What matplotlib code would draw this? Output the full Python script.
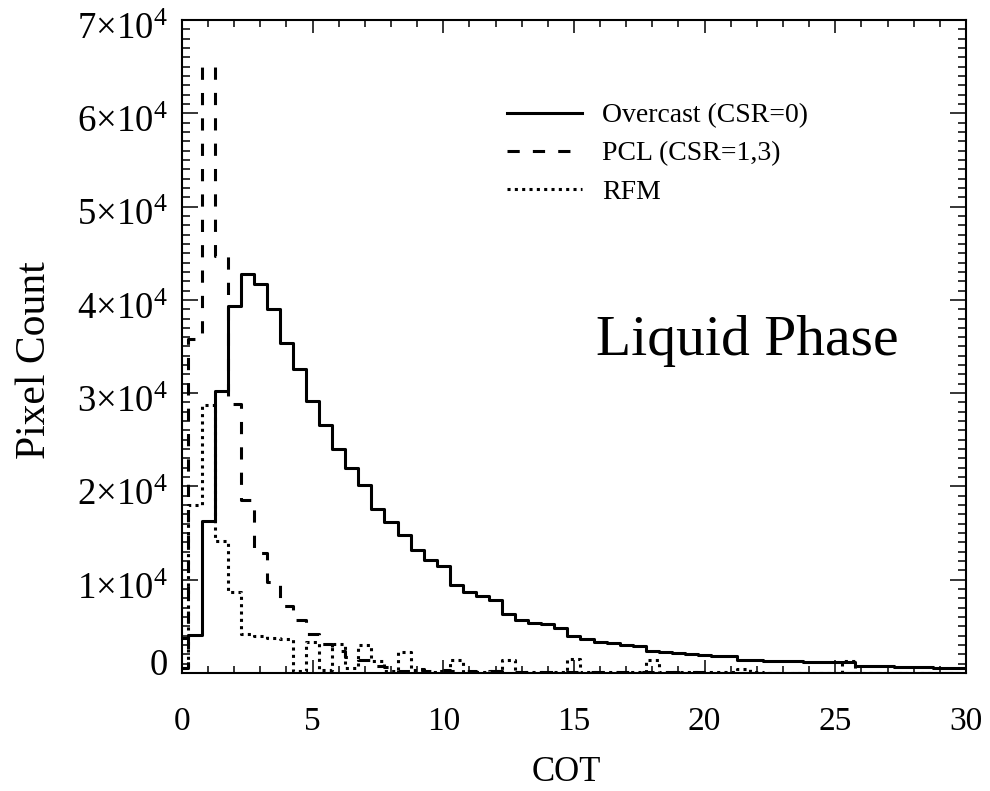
import numpy as np
import matplotlib
matplotlib.use('Agg')
import matplotlib.pyplot as plt
import matplotlib.transforms as mtransforms
from matplotlib.ticker import MultipleLocator

plt.rcParams['font.family'] = ['Liberation Serif', 'DejaVu Serif']
plt.rcParams['mathtext.fontset'] = 'custom'
plt.rcParams['mathtext.rm'] = 'Liberation Serif'
plt.rcParams['mathtext.it'] = 'Liberation Serif:italic'

# COT bin centres (0.5 wide bins)
cot = np.arange(0, 30.5, 0.5)

overcast = [3800, 4100, 16300, 30200, 39300, 42800, 41700, 39000, 35400, 32600,
            29200, 26600, 24000, 22000, 20100, 17600, 16200, 14800, 13200, 12100,
            11500, 9400, 8700, 8300, 7800, 6300, 5700, 5400, 5200, 4800,
            4000, 3600, 3350, 3200, 3050, 2900, 2350, 2200, 2100, 2000,
            1900, 1850, 1780, 1400, 1350, 1320, 1300, 1250, 1230, 1200,
            1180, 1150, 780, 740, 700, 660, 620, 590, 560, 530,
            500]

pcl = [500, 35800, 65000, 44700, 28800, 18500, 12900, 9800, 7150, 5650,
       4150, 3150, 2350, 1700, 1400, 750, 650, 250, 400, 250,
       300, 200, 250, 150, 200, 150, 150, 100, 120, 100,
       100, 90, 90, 80, 80, 80, 70, 70, 60, 60,
       60, 50, 50, 50, 50, 40, 40, 40, 40, 40,
       40, 40, 30, 30, 30, 30, 30, 30, 30, 30,
       30]

rfm = [500, 18000, 28700, 14100, 8700, 4200, 4000, 3800, 3600, 200,
       3300, 300, 3100, 500, 3000, 1300, 200, 2300, 300, 100,
       200, 1400, 150, 100, 200, 1400, 100, 100, 100, 150,
       1500, 100, 80, 80, 80, 100, 1400, 80, 60, 60,
       60, 60, 80, 400, 60, 50, 50, 50, 50, 50,
       50, 1300, 40, 40, 40, 40, 40, 40, 40, 40,
       40]

series_labels = ['Overcast (CSR=0)', 'PCL (CSR=1,3)', 'RFM']
ytick_vals = np.arange(0, 70001, 10000)
ytick_labels = ['0'] + ['%d×10$^4$' % k for k in range(1, 8)]

fig = plt.figure(figsize=(9.9, 7.91), dpi=100)
ax = fig.add_axes([0.1838, 0.1492, 0.7919, 0.8255])

lw = 2.2
ax.step(cot, overcast, where='mid', color='black', lw=lw, label=series_labels[0])
ax.step(cot, pcl, where='mid', color='black', lw=lw, linestyle=(0, (4, 4.3)),
        label=series_labels[1])
ax.step(cot, rfm, where='mid', color='black', lw=lw, linestyle=(0, (1, 1.4)),
        label=series_labels[2])

ax.set_xlim(0, 30)
ax.set_ylim(0, 70000)
ax.set_xticks(np.arange(0, 31, 5))
ax.xaxis.set_minor_locator(MultipleLocator(1))
ax.set_yticks(ytick_vals)
ax.set_yticklabels(ytick_labels)
ax.yaxis.set_minor_locator(MultipleLocator(1000))

ax.tick_params(axis='both', which='both', direction='in', top=True, right=True,
               width=1.1)
ax.tick_params(axis='x', which='major', length=9.4, pad=24, labelsize=24)
ax.tick_params(axis='x', which='minor', length=5)
ax.tick_params(axis='y', which='major', length=11.5, pad=10, labelsize=26.5)
ax.tick_params(axis='y', which='minor', length=5.8)
for sp in ax.spines.values():
    sp.set_linewidth(1.5)

ax.set_xlabel('COT', fontsize=25)
ax.xaxis.set_label_coords(0.49, -0.127)
ax.set_ylabel('Pixel Count', fontsize=30)
ax.yaxis.set_label_coords(-0.163, 0.479)

ax.text(0.721, 0.508, 'Liquid Phase', transform=ax.transAxes, fontsize=41.5,
        ha='center', va='center')

ax.legend(loc='upper left', bbox_to_anchor=(0.414, 0.873), frameon=False,
          fontsize=20, handlelength=2.7, handletextpad=0.75, labelspacing=0.46,
          borderpad=0, borderaxespad=0)

# IDL-style label placement: exponent labels sit slightly below their ticks
for i, lab in enumerate(ax.get_yticklabels()):
    dy = 8 if i == 0 else -4
    lab.set_transform(lab.get_transform() +
                      mtransforms.ScaledTranslation(0, dy / 72, fig.dpi_scale_trans))

fig.savefig('out.png', dpi=100)
